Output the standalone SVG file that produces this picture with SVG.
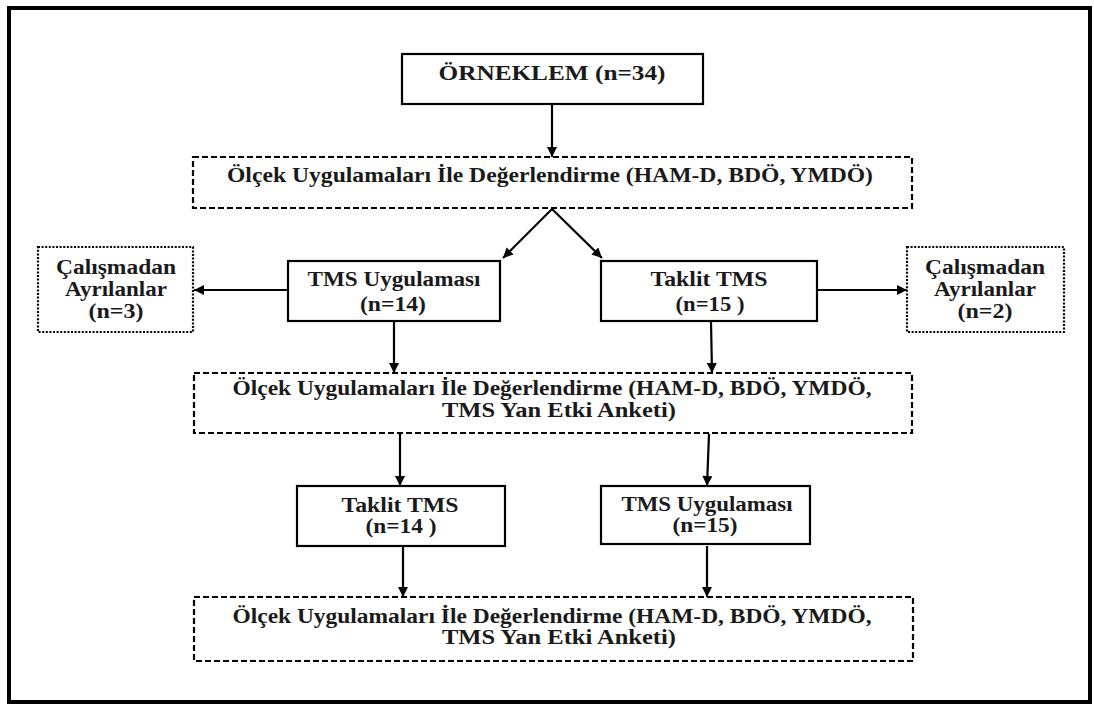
<svg xmlns="http://www.w3.org/2000/svg" width="1094" height="707" viewBox="0 0 1094 707">
<defs>
<style>
.t{font-family:"Liberation Serif","Times New Roman",serif;font-weight:bold;font-size:20px;fill:#1a1a1a;text-anchor:middle}
.solid{fill:#fff;stroke:#000;stroke-width:2.2}
.dash{fill:#fff;stroke:#000;stroke-width:2.2;stroke-dasharray:6 3}
.dot{fill:#fff;stroke:#000;stroke-width:2.2;stroke-dasharray:2 1.6}
.c{stroke:#000;stroke-width:2.2;fill:none;marker-end:url(#ah)}
</style>
<marker id="ah" viewBox="0 0 10 10" refX="10" refY="5" markerWidth="11" markerHeight="10" markerUnits="userSpaceOnUse" orient="auto">
<path d="M0,0 L10,5 L0,10 z" fill="#000"/>
</marker>
</defs>
<rect x="0" y="0" width="1094" height="707" fill="#fff"/>
<rect id="frame" x="9" y="8" width="1081" height="694" fill="none" stroke="#000" stroke-width="4"/>

<g id="connectors">
<line class="c" x1="552" y1="104" x2="552" y2="157"/>
<line class="c" x1="552" y1="209" x2="503" y2="258"/>
<line class="c" x1="552" y1="209" x2="602" y2="258"/>
<line class="c" x1="288" y1="290" x2="194" y2="290"/>
<line class="c" x1="817" y1="290" x2="907" y2="290"/>
<line class="c" x1="394" y1="321" x2="394" y2="373"/>
<line class="c" x1="711" y1="321" x2="712" y2="373"/>
<line class="c" x1="400" y1="434" x2="400" y2="486"/>
<line class="c" x1="709" y1="434" x2="707" y2="486"/>
<line class="c" x1="403" y1="546" x2="403" y2="597"/>
<line class="c" x1="707" y1="546" x2="707" y2="597"/>
</g>

<g id="orneklem">
<rect class="solid" x="402" y="54" width="301" height="50"/>
<text class="t" x="552" y="80" style="font-size:21px" textLength="227" lengthAdjust="spacingAndGlyphs">ÖRNEKLEM (n=34)</text>
</g>

<g id="olcek1">
<rect class="dash" x="193" y="157" width="719" height="51"/>
<text class="t" x="550" y="182" textLength="646" lengthAdjust="spacingAndGlyphs">Ölçek Uygulamaları İle Değerlendirme (HAM-D, BDÖ, YMDÖ)</text>
</g>

<g id="tms1">
<rect class="solid" x="288" y="261" width="212" height="60"/>
<text class="t" x="394" y="286" textLength="173" lengthAdjust="spacingAndGlyphs">TMS Uygulaması</text>
<text class="t" x="393" y="311" textLength="66" lengthAdjust="spacingAndGlyphs">(n=14)</text>
</g>

<g id="taklit1">
<rect class="solid" x="601" y="261" width="216" height="60"/>
<text class="t" x="709" y="286" textLength="117" lengthAdjust="spacingAndGlyphs">Taklit  TMS</text>
<text class="t" x="710" y="311" textLength="69" lengthAdjust="spacingAndGlyphs">(n=15 )</text>
</g>

<g id="ayrilan-left">
<rect class="dot" x="38" y="247" width="155" height="85"/>
<text class="t" x="116" y="274" textLength="120" lengthAdjust="spacingAndGlyphs">Çalışmadan</text>
<text class="t" x="116" y="296" textLength="102" lengthAdjust="spacingAndGlyphs">Ayrılanlar</text>
<text class="t" x="116" y="318" textLength="55" lengthAdjust="spacingAndGlyphs">(n=3)</text>
</g>

<g id="ayrilan-right">
<rect class="dot" x="907" y="247" width="157" height="85"/>
<text class="t" x="985" y="274" textLength="120" lengthAdjust="spacingAndGlyphs">Çalışmadan</text>
<text class="t" x="985" y="296" textLength="102" lengthAdjust="spacingAndGlyphs">Ayrılanlar</text>
<text class="t" x="985" y="318" textLength="55" lengthAdjust="spacingAndGlyphs">(n=2)</text>
</g>

<g id="olcek2">
<rect class="dash" x="194" y="373" width="718" height="60"/>
<text class="t" x="552" y="395" textLength="639" lengthAdjust="spacingAndGlyphs">Ölçek Uygulamaları İle Değerlendirme (HAM-D, BDÖ, YMDÖ,</text>
<text class="t" x="559" y="417" textLength="234" lengthAdjust="spacingAndGlyphs">TMS Yan Etki Anketi)</text>
</g>

<g id="taklit2">
<rect class="solid" x="297" y="486" width="208" height="60"/>
<text class="t" x="400" y="512" textLength="117" lengthAdjust="spacingAndGlyphs">Taklit  TMS</text>
<text class="t" x="401" y="533" textLength="71" lengthAdjust="spacingAndGlyphs">(n=14 )</text>
</g>

<g id="tms2">
<rect class="solid" x="601" y="486" width="209" height="58"/>
<text class="t" x="707" y="511" textLength="171" lengthAdjust="spacingAndGlyphs">TMS Uygulaması</text>
<text class="t" x="705" y="532" textLength="65" lengthAdjust="spacingAndGlyphs">(n=15)</text>
</g>

<g id="olcek3">
<rect class="dash" x="194" y="597" width="719" height="64"/>
<text class="t" x="552" y="623" textLength="639" lengthAdjust="spacingAndGlyphs">Ölçek Uygulamaları İle Değerlendirme (HAM-D, BDÖ, YMDÖ,</text>
<text class="t" x="559" y="644" textLength="234" lengthAdjust="spacingAndGlyphs">TMS Yan Etki Anketi)</text>
</g>
</svg>
